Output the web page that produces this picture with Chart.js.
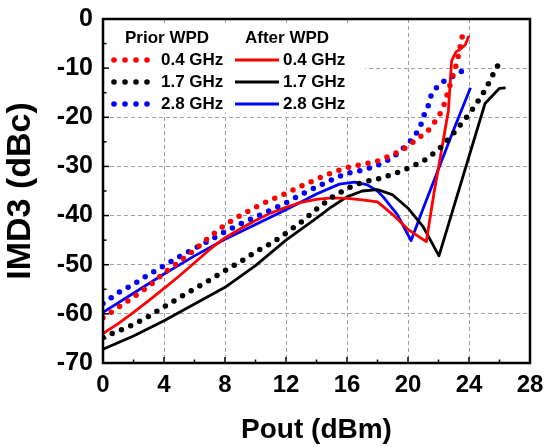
<!DOCTYPE html>
<html>
<head>
<meta charset="utf-8">
<script src="https://cdn.jsdelivr.net/npm/chart.js@4.4.1/dist/chart.umd.min.js"></script>
<style>
  body { margin: 0; background: #fff; }
  #wrap { width: 547px; height: 447px; }
</style>
</head>
<body>
<div id="wrap"><canvas id="imdChart" width="547" height="447"></canvas></div>
<script>
// IMD3 vs Pout, before / after WPD, three frequencies

// x ticks and y ticks
const xTicks = [0, 4, 8, 12, 16, 20, 24, 28];
const yTicks = [0, -10, -20, -30, -40, -50, -60, -70];

// Prior WPD (dotted curves)
const prior04X = [0, 1, 2, 3, 4, 5, 6, 7, 8, 9, 10, 11, 12, 13, 14, 15, 16, 17, 18, 19, 19.65, 20.2, 20.7, 21.3, 21.7, 22.1, 22.4, 22.6, 22.8, 23.2, 23.45, 23.6];
const prior04Y = [-60.8, -58.7, -56.6, -54.4, -51.7, -49.4, -47.0, -44.3, -41.9, -40.0, -38.3, -36.8, -35.5, -34.0, -32.6, -31.3, -30.2, -29.6, -28.9, -27.6, -26.6, -25.4, -24.2, -22.8, -21.2, -19.3, -17.2, -15.0, -13.0, -9.0, -5.2, -2.9];

const prior17X = [0, 1, 2, 3, 4, 5, 6, 7, 8, 9, 10, 11, 12, 13, 14, 15, 16, 17, 18, 19, 20, 21, 22, 23, 24, 24.7, 25.05, 25.4, 25.7, 26];
const prior17Y = [-64.8, -63.5, -62.2, -60.5, -58.6, -56.7, -54.9, -53.1, -51.2, -49.4, -47.4, -45.7, -43.6, -41.3, -38.7, -36.3, -34.5, -33.2, -32.6, -31.6, -30.4, -28.9, -26.6, -23.2, -19.4, -16.2, -14.5, -12.4, -10.5, -8.9];

const prior28X = [0, 1, 2, 3, 4, 5, 6, 7, 8, 9, 10, 11, 12, 13, 14, 15, 16, 17, 18, 18.9, 19.4, 19.9, 20.4, 20.8, 21.0, 21.3, 21.5, 21.7, 22.1, 22.7, 23.3, 23.9];
const prior28Y = [-57.9, -55.7, -54.0, -52.0, -50.2, -48.4, -46.7, -45.0, -43.3, -41.7, -40.3, -38.9, -37.4, -35.7, -34.2, -32.7, -31.4, -30.8, -29.8, -28.4, -27.1, -25.7, -24.0, -22.0, -19.9, -17.9, -15.7, -14.6, -13.1, -12.1, -11.0, -10.1];

// After WPD (solid curves)
const after04X = [0, 1, 2, 3, 4, 5, 6, 7, 8, 9, 10, 11, 12, 13, 14, 15, 16, 17, 18, 19, 20, 21.2, 21.7, 22.2, 22.65, 22.86, 23.15, 23.4, 23.75, 24];
const after04Y = [-64, -62, -59.7, -57.3, -54.8, -52.3, -49.6, -46.9, -44.5, -42.7, -41, -39.5, -38.3, -37.3, -36.7, -36.4, -36.5, -36.8, -37.2, -39.8, -42.8, -45.3, -35.5, -26.7, -18.6, -8.5, -6.7, -6.2, -5.3, -3.4];

const after17X = [0, 2, 4, 6, 8, 10, 12, 14, 15, 16, 17, 18, 19, 20, 21, 22.03, 25.05, 26, 26.4];
const after17Y = [-67.2, -64.5, -61.4, -58, -54.6, -50.2, -45.0, -40.5, -38.2, -36.2, -35, -34.7, -35.8, -38.5, -42.3, -48.2, -17.2, -14.1, -14];

const after28X = [0, 2, 4, 6, 8, 10, 12, 14, 15.5, 16.5, 17.3, 18, 18.4, 19.3, 20.2, 21, 22, 23, 24.1];
const after28Y = [-59.7, -55.8, -51.9, -48.2, -44.8, -41.8, -38.8, -35.6, -33.6, -33.2, -33.7, -35, -36.3, -39.8, -45.1, -38.5, -30.5, -22.5, -14];

const FONT = "'Liberation Sans', Arial, sans-serif";

function toXY(xs, ys) { // pair up x and y arrays
    return xs.map((x, i) => ({ x: x, y: ys[i] }));
}

function dotted(label, color, xs, ys) { // prior WPD style
    return {
        label: label, data: toXY(xs, ys), group: 'prior',
        borderColor: color, borderWidth: 5.5, borderDash: [0, 10],
        borderCapStyle: 'round', pointRadius: 0, fill: false
    };
}

function solid(label, color, xs, ys) { // after WPD style
    return {
        label: label, data: toXY(xs, ys), group: 'after',
        borderColor: color, borderWidth: 2.8, borderJoinStyle: 'round',
        pointRadius: 0, fill: false
    };
}

// frame + inward ticks
const framePlugin = {
    id: 'frame',
    afterDraw(chart) {
        const { ctx, chartArea: a, scales } = chart;
        ctx.save();
        ctx.strokeStyle = '#000';
        ctx.lineWidth = 1.5;
        for (let v = 2; v < 28; v += 2) { // bottom axis ticks
            const px = scales.x.getPixelForValue(v);
            const len = (v % 4 === 0) ? 6 : 3.5;
            ctx.beginPath(); ctx.moveTo(px, a.bottom); ctx.lineTo(px, a.bottom - len); ctx.stroke();
        }
        for (let v = -65; v < 0; v += 5) { // left axis ticks
            const py = scales.y.getPixelForValue(v);
            const len = (v % 10 === 0) ? 6 : 3.5;
            ctx.beginPath(); ctx.moveTo(a.left, py); ctx.lineTo(a.left + len, py); ctx.stroke();
        }
        ctx.lineWidth = 2.5;
        ctx.strokeRect(a.left, a.top, a.right - a.left, a.bottom - a.top);
        ctx.restore();
    }
};

// two column legend (Prior WPD / After WPD)
const legendPlugin = {
    id: 'twoColLegend',
    beforeDatasetsDraw(chart) {
        const ctx = chart.ctx;
        const sets = chart.data.datasets;
        const prior = sets.filter(d => d.group === 'prior');
        const after = sets.filter(d => d.group === 'after');
        ctx.save();
        ctx.fillStyle = '#fff';
        ctx.fillRect(104, 23, 261, 90);
        ctx.fillStyle = '#000';
        ctx.font = 'bold 17px ' + FONT;
        ctx.textBaseline = 'middle';
        ctx.fillText('Prior WPD', 125, 38);
        ctx.fillText('After WPD', 245, 38);
        const rows = [60, 82, 104];
        rows.forEach((y, i) => {
            ctx.fillStyle = prior[i].borderColor; // dots sample
            for (let k = 0; k < 4; k++) {
                ctx.beginPath(); ctx.arc(114 + k * 11, y, 2.8, 0, Math.PI * 2); ctx.fill();
            }
            ctx.fillStyle = '#000';
            ctx.fillText(prior[i].label, 161, y);
            ctx.strokeStyle = after[i].borderColor; // line sample
            ctx.lineWidth = 3;
            ctx.beginPath(); ctx.moveTo(235, y); ctx.lineTo(279, y); ctx.stroke();
            ctx.fillText(after[i].label, 283, y);
        });
        ctx.restore();
    }
};

const ctx = document.getElementById('imdChart').getContext('2d');
const imdChart = new Chart(ctx, {
    type: 'line',
    data: {
        datasets: [
            dotted('0.4 GHz', '#ff0000', prior04X, prior04Y),
            dotted('1.7 GHz', '#000000', prior17X, prior17Y),
            dotted('2.8 GHz', '#0000ff', prior28X, prior28Y),
            solid('0.4 GHz', '#ff0000', after04X, after04Y),
            solid('1.7 GHz', '#000000', after17X, after17Y),
            solid('2.8 GHz', '#0000ff', after28X, after28Y)
        ]
    },
    options: {
        responsive: false,
        animation: false,
        layout: { padding: { left: 0, right: 17, top: 19, bottom: 0 } },
        plugins: { legend: { display: false }, tooltip: { enabled: false } },
        scales: {
            x: {
                type: 'linear', min: 0, max: 28,
                afterBuildTicks: s => { s.ticks = xTicks.map(v => ({ value: v })); },
                ticks: { color: '#000', padding: 8, maxRotation: 0, font: { family: FONT, size: 24, weight: 'bold' } },
                grid: { color: '#a0a0a0', lineWidth: 1, drawTicks: false },
                border: { display: false, dash: [4, 3] },
                title: { display: true, text: 'Pout (dBm)', color: '#000', padding: 0, font: { family: FONT, size: 28, weight: 'bold', lineHeight: 1.2 } },
                afterFit: s => { s.height = 84; s.paddingLeft = 0; s.paddingRight = 0; }
            },
            y: {
                type: 'linear', min: -70, max: 0,
                afterBuildTicks: s => { s.ticks = yTicks.map(v => ({ value: v })); },
                ticks: { color: '#000', padding: 10, font: { family: FONT, size: 25, weight: 'bold' } },
                grid: { color: '#a0a0a0', lineWidth: 1, drawTicks: false },
                border: { display: false, dash: [4, 3] },
                title: { display: true, text: 'IMD3 (dBc)', color: '#000', padding: { top: 0, bottom: 0 }, font: { family: FONT, size: 34, weight: 'bold', lineHeight: 1.2 } },
                afterFit: s => { s.width = 103; s.paddingTop = 0; s.paddingBottom = 0; }
            }
        }
    },
    plugins: [legendPlugin, framePlugin]
});
</script>
</body>
</html>
